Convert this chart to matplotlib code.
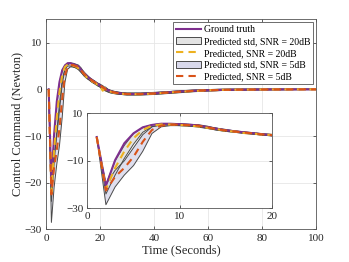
import numpy as np
import matplotlib
matplotlib.use('Agg')
import matplotlib.pyplot as plt
from matplotlib.patches import Patch
from matplotlib.lines import Line2D

plt.rcParams['font.family'] = ['Liberation Serif', 'DejaVu Serif']
plt.rcParams['mathtext.fontset'] = 'stix'

# time samples (s)
t = [1, 2, 3, 4, 5, 6, 7, 8, 9, 10, 11, 12, 13, 14, 15, 16, 17, 18, 19, 20,
     21, 22, 23, 24, 25, 26, 27, 28, 29, 30,
     35, 40, 45, 50, 55, 60, 65, 70, 75, 80, 85, 90, 95, 100]

truth = [0, -20.5, -9.7, -2.6, 1.6, 4.1, 5.1, 5.6, 5.6, 5.4, 5.2, 4.9, 4.2, 3.5, 2.9, 2.4, 2.0, 1.6, 1.2, 0.8,
         0.4, 0.1, -0.2, -0.4, -0.6, -0.7, -0.8, -0.9, -0.95, -1.0,
         -1.0, -0.85, -0.65, -0.45, -0.3, -0.2, -0.12, -0.08, -0.05, -0.03, -0.02, -0.01, 0, 0]

pred20 = [0, -22, -13, -6, -0.5, 3, 4.8, 5.3, 5.3, 5.1, 4.9, 4.5, 3.9, 3.4, 2.6, 2.3, 1.7, 1.5, 1.0, 0.9,
          -0.3, 0.2, -0.3, -0.5, -0.7, -0.8, -0.85, -0.9, -1.0, -1.0,
          -1.05, -0.9, -0.7, -0.5, -0.35, -0.2, -0.12, -0.08, -0.05, -0.03, -0.02, -0.01, 0, 0]
lo20 = [0, -24, -16, -9, -3, 2, 4.4, 5.0, 5.0, 4.8, 4.6, 4.2, 3.6, 3.0, 2.4, 2.0, 1.5, 1.2, 0.8, 0.5,
        -0.2, -0.3, -0.6, -0.8, -0.9, -1.0, -1.05, -1.1, -1.15, -1.2,
        -1.2, -1.05, -0.85, -0.65, -0.45, -0.35, -0.25, -0.2, -0.15, -0.12, -0.1, -0.08, -0.06, -0.05]
hi20 = [0, -20, -10, -3.5, 1.5, 4, 5.2, 5.6, 5.7, 5.5, 5.3, 5.0, 4.3, 3.8, 3.0, 2.6, 2.0, 1.8, 1.3, 1.1,
        0.3, 0.5, 0.0, -0.2, -0.4, -0.5, -0.6, -0.7, -0.75, -0.8,
        -0.8, -0.65, -0.5, -0.3, -0.15, -0.05, 0.02, 0.05, 0.06, 0.06, 0.06, 0.06, 0.05, 0.05]

pred5 = [0, -22.5, -16.7, -13, -8.3, -2, 3, 4.8, 5.2, 5.2, 5.0, 4.8, 4.1, 3.3, 2.8, 2.3, 1.9, 1.5, 1.1, 0.8,
         0.5, 0.0, -0.3, -0.5, -0.6, -0.75, -0.85, -0.9, -0.95, -1.0,
         -1.0, -0.9, -0.7, -0.5, -0.3, -0.2, -0.12, -0.08, -0.05, -0.03, -0.02, -0.01, 0, 0]
lo5 = [0, -28.5, -21, -16, -12, -6, 1.5, 4.3, 4.8, 4.8, 4.6, 4.4, 3.7, 2.9, 2.4, 2.0, 1.6, 1.2, 0.8, 0.5,
       0.1, -0.3, -0.5, -0.7, -0.8, -0.95, -1.05, -1.1, -1.15, -1.2,
       -1.2, -1.1, -0.9, -0.7, -0.5, -0.35, -0.25, -0.2, -0.15, -0.12, -0.1, -0.08, -0.06, -0.05]
hi5 = [0, -20, -14, -10, -4.5, 1, 4.3, 5.2, 5.6, 5.6, 5.4, 5.2, 4.6, 3.7, 3.2, 2.6, 2.2, 1.8, 1.4, 1.1,
       0.8, 0.3, 0.0, -0.3, -0.4, -0.55, -0.65, -0.7, -0.75, -0.8,
       -0.8, -0.7, -0.5, -0.3, -0.15, -0.05, 0.02, 0.05, 0.06, 0.06, 0.06, 0.06, 0.05, 0.05]

c_truth = '#7E2F8E'
c_p20 = '#EDB120'
c_p5 = '#D95319'
c_f20 = '#e3e3e3'
c_f5 = '#d9d9ec'
c_edge = '#4a4a4a'
c_axis = '#262626'
dash = (0, (3.5, 2.5))


def draw(ax, lw=1.5):
    ax.fill_between(t, lo20, hi20, facecolor=c_f20, edgecolor='none', zorder=1)
    ax.plot(t, lo20, color=c_edge, lw=0.7, zorder=2)
    ax.plot(t, hi20, color=c_edge, lw=0.7, zorder=2)
    ax.fill_between(t, lo5, hi5, facecolor=c_f5, edgecolor='none', alpha=0.85, zorder=1)
    ax.plot(t, lo5, color=c_edge, lw=0.7, zorder=2)
    ax.plot(t, hi5, color=c_edge, lw=0.7, zorder=2)
    ax.plot(t, truth, color=c_truth, lw=lw, zorder=3)
    ax.plot(t, pred20, color=c_p20, lw=lw, ls=dash, zorder=4)
    ax.plot(t, pred5, color=c_p5, lw=lw, ls=dash, zorder=5)


def style(ax):
    ax.grid(True, color='#e6e6e6', lw=0.6)
    ax.set_axisbelow(True)
    ax.tick_params(direction='in', top=True, right=True, length=2.5, width=0.5,
                   labelsize=8, colors=c_axis, pad=3)
    for s in ax.spines.values():
        s.set_color('#555555')
        s.set_linewidth(0.6)


fig = plt.figure(figsize=(3.49, 2.62), dpi=100)
ax = fig.add_axes([0.1318, 0.1244, 0.7736, 0.8019])
draw(ax)
ax.set_xlim(0, 100)
ax.set_ylim(-30, 15)
ax.set_xticks([0, 20, 40, 60, 80, 100])
ax.set_yticks([-30, -20, -10, 0, 10])
style(ax)
ax.set_xlabel('Time (Seconds)', fontsize=9, color=c_axis, labelpad=1)
ax.set_ylabel('Control Command (Newton)', fontsize=9, color=c_axis, labelpad=1)

handles = [Line2D([], [], color=c_truth, lw=1.5),
           Patch(facecolor=c_f20, edgecolor=c_edge, lw=0.7),
           Line2D([], [], color=c_p20, lw=1.5, ls=dash),
           Patch(facecolor=c_f5, edgecolor=c_edge, lw=0.7),
           Line2D([], [], color=c_p5, lw=1.5, ls=dash)]
labels = ['Ground truth', 'Predicted std, SNR = 20dB', 'Predicted, SNR = 20dB',
          'Predicted std, SNR = 5dB', 'Predicted, SNR = 5dB']
leg = ax.legend(handles, labels, loc='upper right', fontsize=7, frameon=True,
                fancybox=False, framealpha=1, edgecolor='#555555',
                handlelength=2.6, handleheight=0.8, handletextpad=0.25,
                labelspacing=0.28, borderpad=0.3, borderaxespad=0.3)
leg.get_frame().set_linewidth(0.6)

axi = fig.add_axes([0.2507, 0.2050, 0.5278, 0.3626])
draw(axi)
axi.set_xlim(0, 20)
axi.set_ylim(-30, 10)
axi.set_xticks([0, 10, 20])
axi.set_yticks([-30, -10, 10])
style(axi)

fig.savefig('out.png', dpi=100)
